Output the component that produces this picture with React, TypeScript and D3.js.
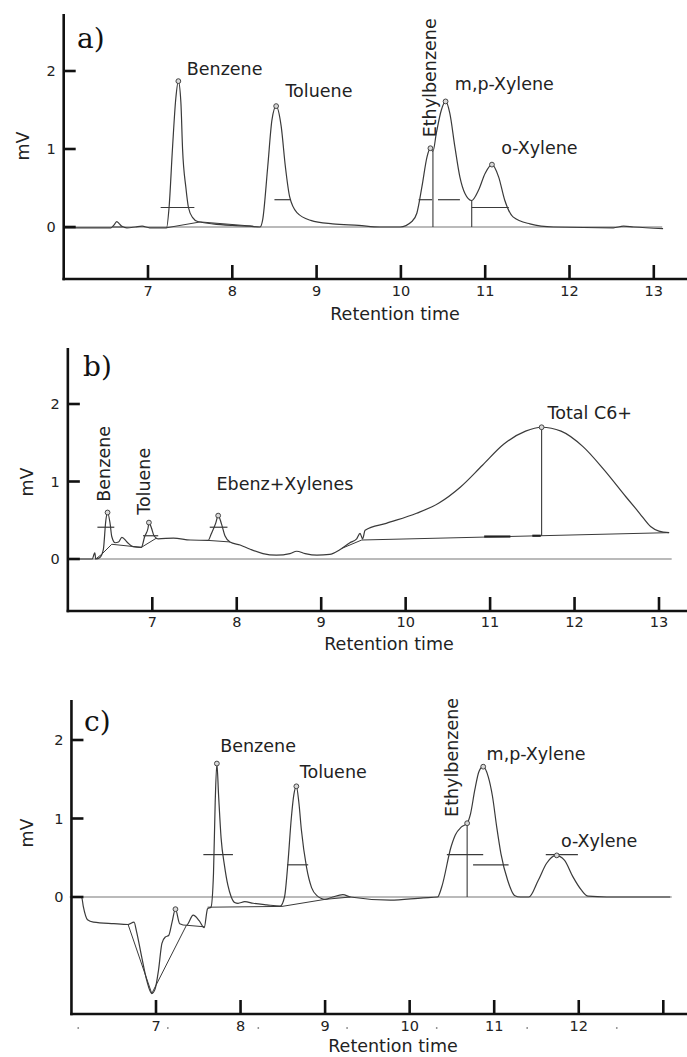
import React from 'react';
import * as d3 from 'd3';

type Pt = [number, number];
type Label = { text: string; t: number; v: number; vertical?: boolean };

// ---------- shared axis data ----------
const xTickValues = [7, 8, 9, 10, 11, 12, 13];
const xTickLabelsAB = ['7', '8', '9', '10', '11', '12', '13'];
const xTickLabelsC = ['7', '8', '9', '10', '11', '12', ''];
const yTickValues = [0, 1, 2];
const yTickLabels = ['0', '1', '2'];
const xTitle = 'Retention time';
const yTitle = 'mV';

// ---------- panel a ----------
const traceA: Pt[] = [
  [6.0, -0.01], [6.3, -0.01], [6.56, -0.01], [6.6, 0.03], [6.63, 0.07], [6.66, 0.04], [6.69, 0.01],
  [6.75, -0.01], [6.85, 0.0], [6.93, 0.01], [7.02, -0.01], [7.22, -0.01],
  [7.25, 0.25], [7.29, 1.0], [7.33, 1.65], [7.36, 1.87], [7.39, 1.6], [7.41, 1.0], [7.45, 0.5],
  [7.48, 0.25], [7.53, 0.12], [7.59, 0.07], [7.77, 0.04], [8.0, 0.02], [8.21, 0.01], [8.33, 0.0],
  [8.36, 0.09], [8.42, 0.77], [8.47, 1.37], [8.52, 1.55], [8.58, 1.29], [8.63, 0.77], [8.68, 0.39],
  [8.77, 0.18], [8.93, 0.085], [9.19, 0.04], [9.5, 0.02], [9.75, 0.0], [9.99, 0.0],
  [10.13, 0.07], [10.19, 0.18], [10.25, 0.52], [10.31, 0.9], [10.35, 1.01], [10.38, 0.97],
  [10.42, 1.2], [10.48, 1.5], [10.53, 1.61], [10.58, 1.46], [10.64, 1.03], [10.7, 0.64],
  [10.76, 0.43], [10.84, 0.34], [10.92, 0.47], [11.0, 0.69], [11.08, 0.8], [11.16, 0.64],
  [11.23, 0.35], [11.33, 0.13], [11.53, 0.04], [11.81, 0.0], [12.52, -0.01], [12.64, 0.01],
  [12.76, 0.0], [13.11, -0.02],
];
const baselinesA: Pt[][] = [
  [[6.58, 0.0], [6.7, 0.0]],
  [[7.22, -0.01], [7.62, 0.065], [8.25, 0.01]],
];
const dropsA: [number, number, number][] = [[10.38, 0.97, 0], [10.84, 0.34, 0]];
const halfMarksA: [number, number, number][] = [
  [7.15, 7.55, 0.25], [8.5, 8.69, 0.35], [10.21, 10.37, 0.35], [10.44, 10.7, 0.35], [10.84, 11.28, 0.25],
];
const apexA: Pt[] = [[7.36, 1.87], [8.52, 1.55], [10.35, 1.01], [10.53, 1.61], [11.08, 0.8]];
const labelsA: Label[] = [
  { text: 'Benzene', t: 7.46, v: 1.95 },
  { text: 'Toluene', t: 8.63, v: 1.67 },
  { text: 'Ethylbenzene', t: 10.42, v: 1.15, vertical: true },
  { text: 'm,p-Xylene', t: 10.64, v: 1.76 },
  { text: 'o-Xylene', t: 11.19, v: 0.94 },
];

// ---------- panel b ----------
const traceB: Pt[] = [
  [6.0, 0], [6.29, 0], [6.31, 0.06], [6.32, 0.08], [6.33, 0.0], [6.38, 0.02], [6.42, 0.12], [6.45, 0.5],
  [6.47, 0.6], [6.5, 0.46], [6.52, 0.29], [6.56, 0.21], [6.6, 0.22], [6.64, 0.28], [6.7, 0.22],
  [6.77, 0.16], [6.87, 0.15], [6.91, 0.29], [6.95, 0.4], [6.96, 0.47], [6.99, 0.4], [7.02, 0.3],
  [7.07, 0.26], [7.25, 0.27], [7.45, 0.245], [7.66, 0.24], [7.7, 0.33], [7.75, 0.46], [7.78, 0.56],
  [7.82, 0.45], [7.86, 0.3], [7.92, 0.22], [8.04, 0.18], [8.16, 0.125], [8.31, 0.07], [8.47, 0.05],
  [8.63, 0.07], [8.71, 0.1], [8.81, 0.07], [8.95, 0.05], [9.1, 0.06], [9.22, 0.12], [9.34, 0.21],
  [9.42, 0.26], [9.46, 0.33], [9.49, 0.26], [9.52, 0.37], [9.77, 0.46], [10.13, 0.59], [10.39, 0.72],
  [10.65, 0.93], [10.91, 1.21], [11.16, 1.48], [11.42, 1.65], [11.61, 1.7], [11.84, 1.65],
  [12.1, 1.45], [12.35, 1.15], [12.61, 0.8], [12.77, 0.59], [12.9, 0.42], [13.0, 0.36], [13.12, 0.34],
];
const baselinesB: Pt[][] = [
  [[6.33, 0.0], [6.4, 0.06], [6.52, 0.19], [6.87, 0.15], [7.05, 0.27]],
  [[7.66, 0.24], [7.92, 0.22]],
  [[9.25, 0.14], [9.48, 0.245], [13.12, 0.34]],
];
const dropsB: [number, number, number][] = [[11.61, 1.7, 0.3]];
const halfMarksB: [number, number, number][] = [
  [6.35, 6.55, 0.41], [6.89, 7.07, 0.3], [7.68, 7.89, 0.41],
];
const thickMarksB: [number, number, number][] = [[10.93, 11.24, 0.29], [11.5, 11.6, 0.3]];
const apexB: Pt[] = [[6.47, 0.6], [6.96, 0.47], [7.78, 0.56], [11.61, 1.7]];
const labelsB: Label[] = [
  { text: 'Benzene', t: 6.5, v: 0.74, vertical: true },
  { text: 'Toluene', t: 6.97, v: 0.57, vertical: true },
  { text: 'Ebenz+Xylenes', t: 7.76, v: 0.89 },
  { text: 'Total C6+', t: 11.68, v: 1.81 },
];

// ---------- panel c ----------
const traceC: Pt[] = [
  [5.98, 0], [6.12, 0], [6.14, -0.12], [6.19, -0.29], [6.26, -0.32], [6.5, -0.34], [6.67, -0.35],
  [6.74, -0.32], [6.77, -0.44], [6.83, -0.76], [6.89, -1.06], [6.95, -1.23], [6.99, -1.17],
  [7.03, -0.93], [7.07, -0.59], [7.11, -0.51], [7.15, -0.49], [7.19, -0.32], [7.23, -0.155],
  [7.28, -0.34], [7.36, -0.36], [7.44, -0.23], [7.51, -0.3], [7.57, -0.39], [7.61, -0.15],
  [7.65, -0.13], [7.68, 0.3], [7.7, 1.2], [7.72, 1.7], [7.74, 1.3], [7.77, 0.75], [7.81, 0.4],
  [7.85, 0.15], [7.89, 0.0], [7.93, -0.07], [7.97, -0.08], [8.05, -0.06], [8.15, -0.08],
  [8.31, -0.1], [8.47, -0.115], [8.52, 0.0], [8.56, 0.43], [8.6, 1.0], [8.63, 1.3], [8.66, 1.41],
  [8.69, 1.2], [8.72, 0.85], [8.78, 0.38], [8.84, 0.12], [8.9, 0.02], [9.0, -0.03], [9.09, 0],
  [9.21, 0.03], [9.3, 0], [9.77, -0.04], [10.16, -0.01], [10.33, 0], [10.38, 0.13], [10.49, 0.64],
  [10.54, 0.79], [10.61, 0.89], [10.68, 0.94], [10.72, 1.06], [10.77, 1.36], [10.82, 1.6],
  [10.87, 1.66], [10.93, 1.53], [10.98, 1.28], [11.03, 0.89], [11.08, 0.55], [11.16, 0.21],
  [11.24, 0.02], [11.31, 0], [11.41, 0], [11.52, 0.21], [11.62, 0.43], [11.73, 0.53], [11.83, 0.47],
  [11.93, 0.26], [12.03, 0.09], [12.11, 0.01], [12.33, 0], [13.08, 0],
];
const baselinesC: Pt[][] = [
  [[6.67, -0.35], [6.95, -1.23]],
  [[6.95, -1.23], [7.36, -0.36], [7.58, -0.38]],
  [[7.61, -0.13], [8.49, -0.12], [9.0, -0.03], [9.3, 0]],
];
const dropsC: [number, number, number][] = [[10.68, 0.94, 0]];
const halfMarksC: [number, number, number][] = [
  [7.56, 7.91, 0.54], [8.55, 8.8, 0.41], [10.44, 10.87, 0.54], [10.75, 11.17, 0.41], [11.61, 11.99, 0.54],
];
const apexC: Pt[] = [[7.23, -0.155], [7.72, 1.7], [8.66, 1.41], [10.68, 0.94], [10.87, 1.66], [11.74, 0.53]];
const labelsC: Label[] = [
  { text: 'Benzene', t: 7.76, v: 1.85 },
  { text: 'Toluene', t: 8.7, v: 1.52 },
  { text: 'Ethylbenzene', t: 10.57, v: 1.02, vertical: true },
  { text: 'm,p-Xylene', t: 10.91, v: 1.74 },
  { text: 'o-Xylene', t: 11.79, v: 0.64 },
];
const dotTimesC = [6.08, 7.14, 8.21, 9.26, 10.32, 11.39, 12.45];

// ---------- layout ----------
const W = 687;
const H = 1057;
const FONT = "'DejaVu Sans', Verdana, sans-serif";
const SERIF = "'DejaVu Serif', 'Liberation Serif', serif";

type Panel = {
  letter: string;
  trace: Pt[];
  baselines: Pt[][];
  drops: [number, number, number][];
  halfMarks: [number, number, number][];
  thickMarks: [number, number, number][];
  apexes: Pt[];
  labels: Label[];
  xTickLabels: string[];
  dots: number[];
  zeroEnd: number;
  L: {
    top: number; bottom: number; zeroY: number; pxPerMV: number; x7: number; pxPerMin: number;
    letterX: number; letterY: number; mvX: number; mvY: number; tickBase: number; titleX: number; titleBase: number;
  };
};

const panels: Panel[] = [
  {
    letter: 'a)', trace: traceA, baselines: baselinesA, drops: dropsA, halfMarks: halfMarksA, thickMarks: [],
    apexes: apexA, labels: labelsA, xTickLabels: xTickLabelsAB, dots: [], zeroEnd: 13.1,
    L: { top: 14, bottom: 279, zeroY: 227, pxPerMV: 78, x7: 148, pxPerMin: 84.3, letterX: 77, letterY: 48,
      mvX: 23, mvY: 146, tickBase: 296, titleX: 395, titleBase: 320 },
  },
  {
    letter: 'b)', trace: traceB, baselines: baselinesB, drops: dropsB, halfMarks: halfMarksB, thickMarks: thickMarksB,
    apexes: apexB, labels: labelsB, xTickLabels: xTickLabelsAB, dots: [], zeroEnd: 13.15,
    L: { top: 348, bottom: 611, zeroY: 559, pxPerMV: 77.5, x7: 152.3, pxPerMin: 84.45, letterX: 83, letterY: 376,
      mvX: 27, mvY: 482, tickBase: 627, titleX: 389, titleBase: 650 },
  },
  {
    letter: 'c)', trace: traceC, baselines: baselinesC, drops: dropsC, halfMarks: halfMarksC, thickMarks: [],
    apexes: apexC, labels: labelsC, xTickLabels: xTickLabelsC, dots: dotTimesC, zeroEnd: 13.1,
    L: { top: 700, bottom: 1014, zeroY: 897, pxPerMV: 78.5, x7: 156, pxPerMin: 84.55, letterX: 84, letterY: 731,
      mvX: 27, mvY: 833, tickBase: 1031, titleX: 393, titleBase: 1052 },
  },
];

function PanelView({ p }: { p: Panel }) {
  const L = p.L;
  const x = d3.scaleLinear().domain([7, 13]).range([L.x7, L.x7 + 6 * L.pxPerMin]);
  const y = d3.scaleLinear().domain([0, 1]).range([L.zeroY, L.zeroY - L.pxPerMV]);
  const ax = x(6);
  const smooth = d3.line<Pt>().x((d) => x(d[0])).y((d) => y(d[1])).curve(d3.curveMonotoneX);
  const straight = d3.line<Pt>().x((d) => x(d[0])).y((d) => y(d[1]));
  const ink = '#3a3a3a';
  return (
    <g>
      <line x1={ax} x2={x(p.zeroEnd)} y1={y(0)} y2={y(0)} stroke="#777" strokeWidth={1.2} />
      {p.baselines.map((b, i) => (
        <path key={'b' + i} d={straight(b) || ''} fill="none" stroke={ink} strokeWidth={1} />
      ))}
      <path d={smooth(p.trace) || ''} fill="none" stroke={ink} strokeWidth={1.2} strokeLinejoin="round" />
      {p.drops.map((d, i) => (
        <line key={'d' + i} x1={x(d[0])} x2={x(d[0])} y1={y(d[1])} y2={y(d[2])} stroke={ink} strokeWidth={1.1} />
      ))}
      {p.halfMarks.map((m, i) => (
        <line key={'h' + i} x1={x(m[0])} x2={x(m[1])} y1={y(m[2])} y2={y(m[2])} stroke={ink} strokeWidth={1.2} />
      ))}
      {p.thickMarks.map((m, i) => (
        <line key={'t' + i} x1={x(m[0])} x2={x(m[1])} y1={y(m[2])} y2={y(m[2])} stroke="#222" strokeWidth={2.2} />
      ))}
      {p.apexes.map((a, i) => (
        <circle key={'a' + i} cx={x(a[0])} cy={y(a[1])} r={2.4} fill="#d8d8d8" stroke="#444" strokeWidth={1} />
      ))}
      <line x1={ax} x2={ax} y1={L.top} y2={L.bottom + 1.2} stroke="#111" strokeWidth={2.6} />
      <line x1={ax - 1.2} x2={W} y1={L.bottom} y2={L.bottom} stroke="#111" strokeWidth={2.6} />
      {yTickValues.map((v, i) => (
        <g key={'yt' + i}>
          <line x1={ax} x2={ax + 12} y1={y(v)} y2={y(v)} stroke="#111" strokeWidth={2.6} />
          <text x={ax - 8} y={y(v) + 5} textAnchor="end" fontSize={14.5} fontFamily={FONT} fill="#222">
            {yTickLabels[i]}
          </text>
        </g>
      ))}
      {xTickValues.map((v, i) => (
        <g key={'xt' + i}>
          <line x1={x(v)} x2={x(v)} y1={L.bottom} y2={L.bottom - 14} stroke="#111" strokeWidth={2.6} />
          <text x={x(v)} y={L.tickBase} textAnchor="middle" fontSize={14.5} fontFamily={FONT} fill="#222">
            {p.xTickLabels[i]}
          </text>
        </g>
      ))}
      {p.dots.map((t, i) => (
        <circle key={'dot' + i} cx={x(t)} cy={L.tickBase - 3} r={0.9} fill="#888" />
      ))}
      <text x={L.titleX} y={L.titleBase} textAnchor="middle" fontSize={17.5} fontFamily={FONT} fill="#222">
        {xTitle}
      </text>
      <text transform={`translate(${L.mvX + 6},${L.mvY}) rotate(-90)`} textAnchor="middle" fontSize={17.5}
        fontFamily={FONT} fill="#222">
        {yTitle}
      </text>
      <text x={L.letterX} y={L.letterY} fontSize={28} fontFamily={SERIF} fill="#111">
        {p.letter}
      </text>
      {p.labels.map((lb, i) =>
        lb.vertical ? (
          <text key={'l' + i} transform={`translate(${x(lb.t)},${y(lb.v)}) rotate(-90)`} fontSize={17.5}
            fontFamily={FONT} fill="#222">
            {lb.text}
          </text>
        ) : (
          <text key={'l' + i} x={x(lb.t)} y={y(lb.v)} fontSize={17.5} fontFamily={FONT} fill="#222">
            {lb.text}
          </text>
        )
      )}
    </g>
  );
}

export default function App() {
  return (
    <svg width={W} height={H} viewBox={`0 0 ${W} ${H}`}
      style={{ position: 'absolute', left: 0, top: 0, display: 'block', background: '#fff' }}>
      <rect x={0} y={0} width={W} height={H} fill="#fff" />
      {panels.map((p, i) => (
        <PanelView key={i} p={p} />
      ))}
    </svg>
  );
}
